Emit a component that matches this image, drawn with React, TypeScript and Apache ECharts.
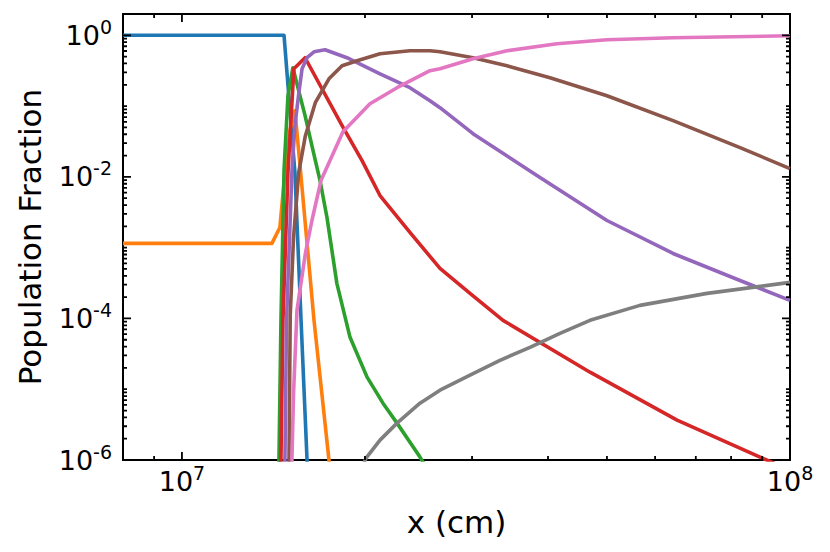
import React, { useEffect, useRef } from "react";
import * as echarts from "echarts";

const FONT = "DejaVu Sans";

// axis ranges
const xMin = 8e6;
const xMax = 1e8;
const yMin = 1e-6;
const yMax = 2;

// tick labels (powers of ten that carry a label)
const xLabelExps = [7, 8];
const yLabelExps = [0, -2, -4, -6];
const xDecades = [6, 7];
const yDecades = [-6, -5, -4, -3, -2, -1, 0];
const minorSubs = [2, 3, 4, 5, 6, 7, 8, 9];

const seriesColors = ["#1f77b4", "#ff7f0e", "#2ca02c", "#d62728", "#9467bd", "#8c564b", "#e377c2", "#7f7f7f"];

// series values (x in cm, y = population fraction)
const blueX = [8e6, 1.472e7, 1.534e7, 1.570e7, 1.606e7, 1.643e7];
const blueY = [1, 1, 1.15e-2, 9.4e-5, 1.0e-6, 1e-8];

const orangeX = [8e6, 1.406e7, 1.449e7, 1.477e7, 1.505e7, 1.534e7, 1.564e7, 1.649e7, 1.745e7, 1.82e7];
const orangeY = [1.15e-3, 1.15e-3, 1.93e-3, 1.15e-2, 4.5e-2, 8.6e-2, 1.44e-2, 9.4e-5, 1.0e-6, 2e-8];

const greenX = [1.439e7, 1.444e7, 1.455e7, 1.472e7, 1.494e7, 1.522e7, 1.594e7, 1.643e7, 1.687e7, 1.732e7, 1.798e7, 1.89e7, 2.016e7, 2.141e7, 2.258e7, 2.463e7, 2.657e7];
const greenY = [1e-8, 1.0e-6, 9.4e-5, 1.23e-2, 0.14, 0.348, 7.33e-2, 2.35e-2, 8.87e-3, 2.67e-3, 3.13e-4, 5.41e-5, 1.48e-5, 6.35e-6, 3.32e-6, 1.1e-6, 3.76e-7];

const redX = [1.449e7, 1.455e7, 1.466e7, 1.494e7, 1.528e7, 1.594e7, 1.834e7, 1.978e7, 2.117e7, 2.371e7, 2.657e7, 2.977e7, 3.373e7, 4.689e7, 6.52e7, 8.928e7, 1e8];
const redY = [1e-8, 1.0e-6, 9.4e-5, 1.15e-2, 0.337, 0.482, 5.3e-2, 1.7e-2, 5.45e-3, 1.64e-3, 5.09e-4, 2.26e-4, 9.4e-5, 1.74e-5, 3.66e-6, 1.1e-6, 7.2e-7];

const purpleX = [1.472e7, 1.477e7, 1.486e7, 1.517e7, 1.534e7, 1.557e7, 1.576e7, 1.606e7, 1.649e7, 1.719e7, 1.868e7, 2.117e7, 2.371e7, 2.558e7, 2.657e7, 3.011e7, 3.88e7, 5.0e7, 6.422e7, 8.276e7, 1e8];
const purpleY = [1e-8, 1.0e-6, 9.4e-5, 1.23e-2, 5.3e-2, 0.1545, 0.337, 0.482, 0.585, 0.625, 0.482, 0.286, 0.182, 0.119, 9.49e-2, 4.08e-2, 9.77e-3, 2.42e-3, 8.28e-4, 3.44e-4, 1.8e-4];

const brownX = [1.494e7, 1.5e7, 1.507e7, 1.526e7, 1.556e7, 1.596e7, 1.657e7, 1.745e7, 1.834e7, 1.941e7, 2.117e7, 2.371e7, 2.558e7, 2.657e7, 3.011e7, 3.424e7, 4.03e7, 5.0e7, 6.422e7, 8.276e7, 1e8];
const brownY = [1e-7, 1.0e-6, 1.1e-4, 1.39e-3, 1.15e-2, 3.82e-2, 0.1117, 0.243, 0.371, 0.437, 0.548, 0.604, 0.604, 0.585, 0.482, 0.371, 0.252, 0.14, 6.22e-2, 2.59e-2, 1.31e-2];

const pinkX = [1.511e7, 1.517e7, 1.526e7, 1.546e7, 1.596e7, 1.636e7, 1.693e7, 1.84e7, 2.038e7, 2.258e7, 2.558e7, 2.657e7, 3.011e7, 3.424e7, 4.138e7, 5.0e7, 6.422e7, 1e8];
const pinkY = [1e-7, 1.1e-6, 8.79e-6, 1.3e-4, 8.28e-4, 2.42e-3, 8.87e-3, 4.35e-2, 0.108, 0.182, 0.316, 0.337, 0.466, 0.604, 0.759, 0.865, 0.922, 0.984];

const grayX = [1.978e7, 2.008e7, 2.117e7, 2.258e7, 2.463e7, 2.657e7, 2.977e7, 3.334e7, 3.736e7, 4.185e7, 4.689e7, 5.665e7, 7.304e7, 1e8];
const grayY = [7.9e-7, 1.06e-6, 1.91e-6, 3.32e-6, 6.35e-6, 9.68e-6, 1.58e-5, 2.56e-5, 3.91e-5, 6.16e-5, 9.4e-5, 1.53e-4, 2.26e-4, 3.23e-4];

const allSeries = [
  [blueX, blueY],
  [orangeX, orangeY],
  [greenX, greenY],
  [redX, redY],
  [purpleX, purpleY],
  [brownX, brownY],
  [pinkX, pinkY],
  [grayX, grayY],
];

// layout
const W = 830;
const H = 552;
const G_LEFT = 123;
const G_RIGHT = 40;
const G_TOP = 14;
const G_BOTTOM = 92;
const MAJOR_LEN = 8;
const MINOR_LEN = 4;

function isLabelled(v: number, exps: number[]) {
  const l = Math.log10(v);
  const e = Math.round(l);
  return Math.abs(l - e) < 1e-6 && exps.includes(e);
}

// tick positions: labelled powers of ten plus 2..9 sub-ticks of every decade
const xTickVals: number[] = [];
xDecades.forEach((d) =>
  minorSubs.forEach((s) => {
    const v = s * Math.pow(10, d);
    if (v > xMin && v < xMax) xTickVals.push(v);
  })
);
xLabelExps.forEach((e) => xTickVals.push(Math.pow(10, e)));

const yTickVals: number[] = [];
yDecades.forEach((d) => {
  minorSubs.forEach((s) => {
    const v = s * Math.pow(10, d);
    if (v > yMin && v < yMax) yTickVals.push(v);
  });
  if (!yLabelExps.includes(d)) yTickVals.push(Math.pow(10, d));
});
yLabelExps.forEach((e) => yTickVals.push(Math.pow(10, e)));

// tick segments expressed in data space (tick length converted via pixels-per-decade)
const pxPerDecX = (W - G_LEFT - G_RIGHT) / Math.log10(xMax / xMin);
const pxPerDecY = (H - G_TOP - G_BOTTOM) / Math.log10(yMax / yMin);

function xTickData() {
  const out: any[] = [];
  xTickVals.forEach((v) => {
    const len = isLabelled(v, xLabelExps) ? MAJOR_LEN : MINOR_LEN;
    const f = Math.pow(10, len / pxPerDecY);
    out.push([v, yMin], [v, yMin * f], [v, "-"], [v, yMax], [v, yMax / f], [v, "-"]);
  });
  return out;
}

function yTickData() {
  const out: any[] = [];
  yTickVals.forEach((v) => {
    const len = isLabelled(v, yLabelExps) ? MAJOR_LEN : MINOR_LEN;
    const f = Math.pow(10, len / pxPerDecX);
    out.push([xMin, v], [xMin * f, v], ["-", v], [xMax, v], [xMax / f, v], ["-", v]);
  });
  return out;
}

function powLabel(exps: number[]) {
  return (v: number) => {
    if (!isLabelled(v, exps)) return "";
    return `{b|10}{s|${Math.round(Math.log10(v))}}`;
  };
}

const rich = {
  b: { fontSize: 27, lineHeight: 36, fontFamily: FONT, color: "#000" },
  s: { fontSize: 19, lineHeight: 19, fontFamily: FONT, color: "#000", verticalAlign: "top" },
};

const baseAxis = {
  type: "log",
  logBase: 10,
  nameLocation: "middle",
  nameTextStyle: { fontSize: 31, fontFamily: FONT, color: "#000" },
  axisLine: { show: false },
  axisTick: { show: false },
  minorTick: { show: false },
  splitLine: { show: false },
};

const tickSeries = (data: any[]) => ({
  type: "line",
  data,
  symbol: "none",
  showSymbol: false,
  connectNulls: false,
  clip: false,
  silent: true,
  z: 10,
  lineStyle: { color: "#000", width: 1.8, cap: "butt" },
  emphasis: { disabled: true },
});

export default function App() {
  const ref = useRef<HTMLDivElement>(null);

  useEffect(() => {
    if (!ref.current) return;
    const chart = echarts.init(ref.current, null, { renderer: "svg" });

    const option: any = {
      animation: false,
      backgroundColor: "#fff",
      grid: {
        left: G_LEFT,
        right: G_RIGHT,
        top: G_TOP,
        bottom: G_BOTTOM,
        show: true,
        borderColor: "#000",
        borderWidth: 2,
        containLabel: false,
        outerBoundsMode: "none",
      },
      xAxis: {
        ...baseAxis,
        min: xMin,
        max: xMax,
        name: "x (cm)",
        nameGap: 46,
        axisLabel: { margin: 3, fontSize: 27, fontFamily: FONT, color: "#000", formatter: powLabel(xLabelExps), rich },
      },
      yAxis: {
        ...baseAxis,
        min: yMin,
        max: yMax,
        name: "Population Fraction",
        nameGap: 78,
        axisLabel: { margin: 11, fontSize: 27, fontFamily: FONT, color: "#000", formatter: powLabel(yLabelExps), rich },
      },
      series: [
        ...allSeries.map(([xs, ys], i) => ({
          type: "line",
          data: xs.map((x, j) => [x, ys[j]]),
          symbol: "none",
          showSymbol: false,
          clip: true,
          z: 2,
          lineStyle: { color: seriesColors[i], width: 3.6, join: "round", cap: "butt" },
          emphasis: { disabled: true },
        })),
        tickSeries(xTickData()),
        tickSeries(yTickData()),
      ],
    };

    chart.setOption(option);
    return () => chart.dispose();
  }, []);

  return (
    <div
      ref={ref}
      style={{ position: "absolute", left: 0, top: 0, width: W, height: H, background: "#fff" }}
    />
  );
}
